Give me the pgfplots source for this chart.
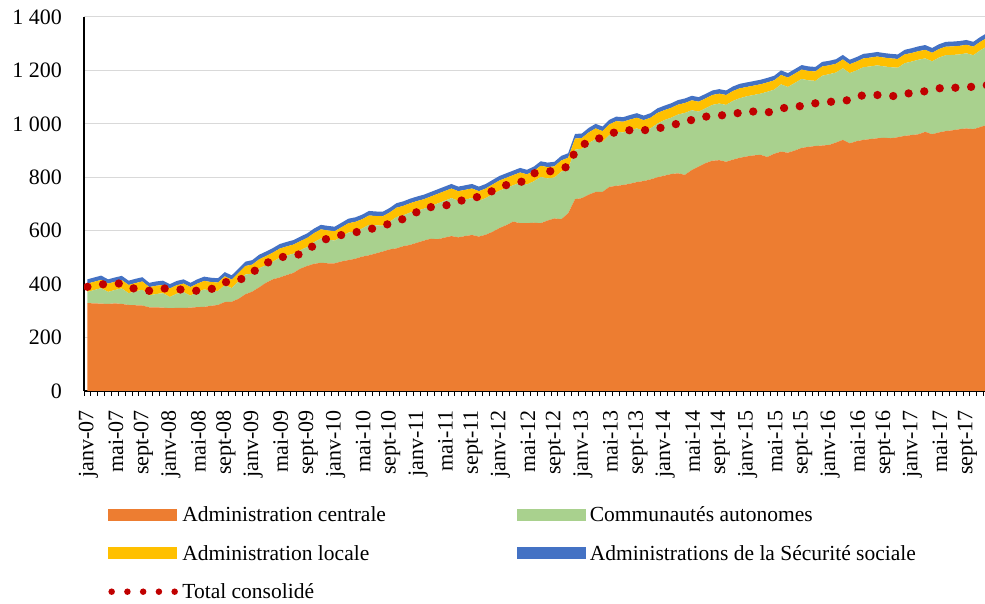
\documentclass[border=0pt]{standalone}
\usepackage{pgfplots}
\pgfplotsset{compat=1.18}
\usepackage{pgfplotstable}
\usepackage{fontspec}
\setmainfont{Liberation Serif}
\definecolor{cCentral}{HTML}{ED7D31}
\definecolor{cCCAA}{HTML}{A9D18E}
\definecolor{cLocal}{HTML}{FFC000}
\definecolor{cSS}{HTML}{4472C4}
\definecolor{cTotal}{HTML}{C00000}
\definecolor{gridgray}{HTML}{D9D9D9}

\pgfplotstableread{
i C R L S
0 329 42 31 16
1 328 50 31 16
2 327 58 31 16
3 326 45 31 16
4 328 50 31 16
5 326 58 31 16
6 322 44 31 16
7 321 52 31 16
8 320 59 31 16
9 313 45 31 16
10 313 50 31 16
11 312 54 31 16
12 310 42 32 16
13 311 53 32 16
14 311 59 32 16
15 312 45 32 16
16 314 56 32 16
17 315 65 32 16
18 319 57 32 16
19 322 52 32 16
20 333 64 32 16
21 334 51 32 16
22 345 65 32 16
23 362 74 32 16
24 372 67 34 17
25 388 71 34 17
26 405 66 34 17
27 418 66 34 17
28 425 74 34 17
29 434 73 34 17
30 442 72 34 17
31 458 69 34 17
32 468 71 34 17
33 476 81 34 17
34 480 91 34 17
35 478 89 34 17
36 478 85 35 17
37 485 93 35 17
38 490 103 35 17
39 495 103 35 17
40 503 105 35 17
41 508 114 35 17
42 515 105 35 17
43 522 97 35 17
44 530 103 35 17
45 534 117 35 17
46 542 116 35 17
47 547 121 35 17
48 555 120 36 17
49 563 119 36 17
50 570 122 36 17
51 568 134 36 17
52 574 138 36 17
53 580 142 36 17
54 575 137 36 17
55 580 137 36 17
56 584 138 36 17
57 578 134 36 17
58 585 137 36 17
59 596 141 36 17
60 610 140 38 17
61 621 139 38 17
62 634 136 38 17
63 628 152 38 17
64 628 145 38 17
65 630 155 38 17
66 628 173 42 17
67 638 158 42 17
68 646 153 42 17
69 643 178 42 17
70 665 166 42 17
71 718 185 42 17
72 722 185 40 17
73 735 193 40 17
74 745 198 40 17
75 745 188 40 17
76 764 194 40 17
77 768 202 40 17
78 771 197 40 17
79 776 200 40 17
80 782 201 40 17
81 786 188 40 17
82 792 191 40 17
83 800 201 40 17
84 806 208 37 17
85 812 211 37 17
86 815 220 37 17
87 809 232 37 17
88 827 224 37 17
89 840 206 37 17
90 853 205 37 17
91 862 209 37 17
92 864 212 37 17
93 858 213 37 17
94 866 220 37 17
95 873 223 37 17
96 878 225 35 17
97 882 226 35 17
98 884 229 35 17
99 876 244 35 17
100 888 240 35 17
101 896 252 35 17
102 892 246 35 17
103 900 253 35 17
104 910 258 35 17
105 914 249 35 17
106 917 244 35 17
107 919 261 35 17
108 921 265 33 17
109 930 262 33 17
110 940 268 33 17
111 927 263 33 17
112 935 265 33 17
113 940 272 33 17
114 943 272 33 17
115 946 273 33 17
116 948 267 33 17
117 946 266 33 17
118 950 260 33 17
119 955 272 33 17
120 958 275 32 18
121 961 279 32 18
122 970 275 32 18
123 961 273 32 18
124 968 280 32 18
125 973 284 32 18
126 976 282 32 18
127 980 280 32 18
128 983 281 32 18
129 980 277 32 18
130 988 287 32 18
131 996 294 32 18
}\debt

\pgfplotstableread{
i T
0 390
2 399
5 403
7 381
9 375
11 384
13 381
16 375
18 381
20 407
22 413
24 444
26 478
28 500
31 512
33 545
35 572
37 584
40 599
42 611
45 634
47 655
49 686
52 693
54 711
56 719
58 738
61 771
63 780
65 815
67 820
70 840
71 896
73 937
75 948
77 971
80 979
82 975
85 996
87 1005
89 1025
92 1031
94 1036
96 1048
99 1042
101 1058
104 1067
106 1077
108 1082
111 1089
113 1108
115 1108
118 1103
120 1117
122 1122
125 1138
127 1134
130 1142
131 1145
}\total

\pgfplotsset{
  commonaxis/.style={
    at={(84bp,213bp)}, anchor=south west,
    scale only axis, width=901bp, height=374bp,
    xmin=-0.5, xmax=130.7, ymin=0, ymax=1400,
  },
}

\begin{document}
\begin{tikzpicture}[font=\fontsize{21.5bp}{25bp}\selectfont]
\path[use as bounding box] (0,0) rectangle (985bp,604bp);
% stacked areas
\begin{axis}[
  commonaxis,
  axis lines*=left,
  axis line style={black, line width=1.1bp, -},
  ytick={0,200,...,1400},
  yticklabels={0,200,400,600,800,1 000,1 200,1 400},
  ymajorgrids, grid style={draw=gridgray, line width=1bp},
  xtick={0,4,...,128},
  xticklabels={janv-07,mai-07,sept-07,janv-08,mai-08,sept-08,janv-09,mai-09,sept-09,janv-10,mai-10,sept-10,janv-11,mai-11,sept-11,janv-12,mai-12,sept-12,janv-13,mai-13,sept-13,janv-14,mai-14,sept-14,janv-15,mai-15,sept-15,janv-16,mai-16,sept-16,janv-17,mai-17,sept-17},
  minor xtick={-0.5,0.5,...,130.5},
  major tick length=0pt, minor tick length=5bp, tick align=outside,
  tick style={black, line width=0.9bp},
  xticklabel style={yshift=-19bp, xshift=1bp, rotate=90, anchor=east, inner sep=0pt},
  yticklabel style={inner sep=0pt, xshift=-22bp},
  tick label style={font=\fontsize{22bp}{25bp}\selectfont},
  stack plots=y,
]
\addplot[fill=cCentral, draw=none] table[x=i, y=C] {\debt} \closedcycle;
\addplot[fill=cCCAA, draw=none] table[x=i, y=R] {\debt} \closedcycle;
\addplot[fill=cLocal, draw=none] table[x=i, y=L] {\debt} \closedcycle;
\addplot[fill=cSS, draw=none] table[x=i, y=S] {\debt} \closedcycle;
\end{axis}
% consolidated total and legend
\begin{axis}[
  commonaxis,
  hide axis,
  legend columns=2,
  legend cell align=left,
  legend style={
    at={(0.0266,-0.304)}, anchor=north west,
    draw=none, fill=none, inner sep=0pt, outer sep=0pt,
    row sep=18.5bp,
    nodes={inner sep=0pt, text height=17bp, text depth=3bp},
    /tikz/every odd column/.append style={column sep=4.5bp},
    /tikz/every even column/.append style={column sep=131bp},
    font=\fontsize{21.5bp}{25bp}\selectfont,
  },
]
\addlegendimage{legend image code/.code={\fill[cCentral] (0bp,-5.5bp) rectangle (68bp,5.5bp);}}
\addlegendentry{Administration centrale}
\addlegendimage{legend image code/.code={\fill[cCCAA] (0bp,-5.5bp) rectangle (68bp,5.5bp);}}
\addlegendentry{Communautés autonomes}
\addlegendimage{legend image code/.code={\fill[cLocal] (0bp,-5.5bp) rectangle (68bp,5.5bp);}}
\addlegendentry{Administration locale}
\addlegendimage{legend image code/.code={\fill[cSS] (0bp,-5.5bp) rectangle (68bp,5.5bp);}}
\addlegendentry{Administrations de la Sécurité sociale}
\addplot[cTotal, line width=8.3bp, line cap=round, line join=round,
  dash pattern=on 0bp off 15.8bp, mark=none,
  legend image code/.code={%
    \draw[cTotal, line width=6.5bp, line cap=round, dash pattern=on 0bp off 15.75bp] (3.5bp,0bp) -- (66.5bp,0bp);}]
  table[x=i, y=T] {\total};
\addlegendentry{Total consolidé}
\end{axis}
\end{tikzpicture}
\end{document}
